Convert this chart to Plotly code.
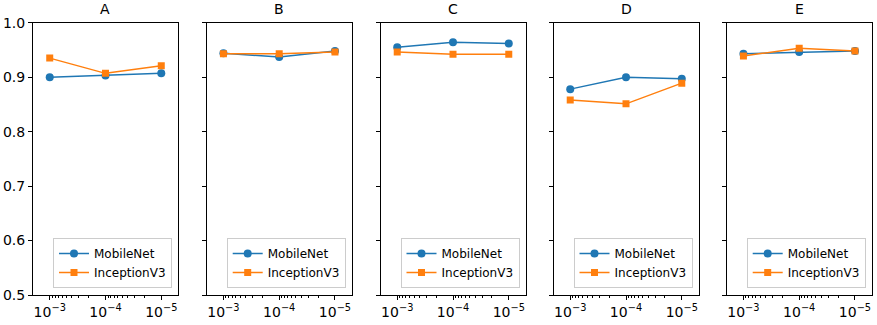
import plotly.graph_objects as go

# Data
panels = ["A", "B", "C", "D", "E"]
learning_rates = [1e-3, 1e-4, 1e-5]
x_ticks = [1e-3, 1e-4, 1e-5]
x_tick_labels = ["10<sup>−3</sup>", "10<sup>−4</sup>", "10<sup>−5</sup>"]
y_ticks = [0.5, 0.6, 0.7, 0.8, 0.9, 1.0]
y_tick_labels = ["0.5", "0.6", "0.7", "0.8", "0.9", "1.0"]

mobilenet = {
    "A": [0.900, 0.903, 0.907],
    "B": [0.944, 0.937, 0.948],
    "C": [0.955, 0.964, 0.962],
    "D": [0.878, 0.900, 0.897],
    "E": [0.943, 0.946, 0.948],
}
inception = {
    "A": [0.935, 0.907, 0.921],
    "B": [0.943, 0.943, 0.946],
    "C": [0.946, 0.942, 0.942],
    "D": [0.858, 0.851, 0.889],
    "E": [0.939, 0.953, 0.948],
}

BLUE = "#1f77b4"
ORANGE = "#ff7f0e"
FONT = "DejaVu Sans"
W, H = 877, 325

# panel pixel edges
lefts = [33, 206.7, 380.5, 553.5, 726.7]
width_px = 145
top_px, bottom_px = 22.7, 295

minor_vals = [m * 10 ** e for e in (-5, -4, -3) for m in range(2, 10)]

fig = go.Figure()
layout = dict(
    width=W, height=H, autosize=False,
    margin=dict(l=0, r=0, t=0, b=0, autoexpand=False),
    paper_bgcolor="white", plot_bgcolor="white",
    font=dict(family=FONT, size=13, color="black"),
    annotations=[],
)

for i, p in enumerate(panels):
    n = "" if i == 0 else str(i + 1)
    leg = "legend" + n
    x0 = lefts[i] / W
    x1 = (lefts[i] + width_px) / W
    fig.add_trace(go.Scatter(
        x=learning_rates, y=mobilenet[p], name="MobileNet", mode="lines+markers",
        line=dict(color=BLUE, width=1.5), marker=dict(symbol="circle", size=8, color=BLUE),
        xaxis="x" + n, yaxis="y" + n, legend=leg))
    fig.add_trace(go.Scatter(
        x=learning_rates, y=inception[p], name="InceptionV3", mode="lines+markers",
        line=dict(color=ORANGE, width=1.5), marker=dict(symbol="square", size=7, color=ORANGE),
        xaxis="x" + n, yaxis="y" + n, legend=leg))

    layout["xaxis" + n] = dict(
        domain=[x0, x1], anchor="y" + n, type="log", range=[-2.7, -5.3], automargin=False,
        tickvals=x_ticks, ticktext=x_tick_labels, showgrid=False, zeroline=False,
        showline=True, linecolor="black", linewidth=1, mirror=True,
        ticks="outside", ticklen=4, tickcolor="black",
        tickfont=dict(family=FONT, size=14),
        minor=dict(tickvals=minor_vals, ticks="outside", ticklen=2, tickcolor="black", showgrid=False),
    )
    layout["yaxis" + n] = dict(
        domain=[1 - bottom_px / H, 1 - top_px / H], anchor="x" + n, range=[0.5, 1.0],
        automargin=False, tickvals=y_ticks, ticktext=y_tick_labels,
        showticklabels=(i == 0), showgrid=False, zeroline=False,
        showline=True, linecolor="black", linewidth=1, mirror=True,
        ticks="outside", ticklen=4, tickcolor="black",
        tickfont=dict(family=FONT, size=14),
    )
    layout[leg] = dict(
        x=(lefts[i] + width_px - 6) / W, y=1 - 288 / H, xanchor="right", yanchor="bottom",
        bgcolor="rgba(255,255,255,0.8)", bordercolor="#cccccc", borderwidth=1,
        font=dict(family=FONT, size=12), itemwidth=30, tracegroupgap=0,
    )
    layout["annotations"].append(dict(
        text=p, x=(x0 + x1) / 2, y=1 - (top_px - 4) / H, xref="paper", yref="paper",
        xanchor="center", yanchor="bottom", showarrow=False,
        font=dict(family=FONT, size=14, color="black"),
    ))

fig.update_layout(**layout)
# page body margin off so the figure sits at the window's corner
fig.write_html("out.html", config={"displayModeBar": False},
               post_script="document.body.style.margin='0';")
